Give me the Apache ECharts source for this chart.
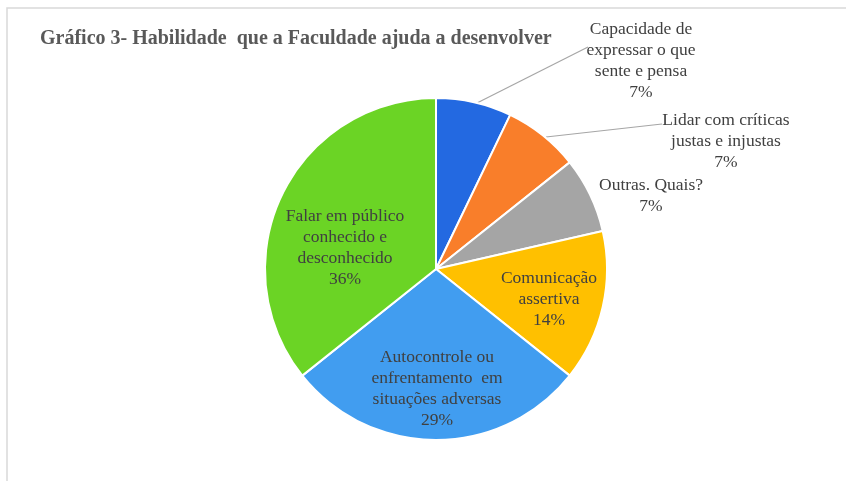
<!DOCTYPE html>
<html><head><meta charset="utf-8">
<script src="https://cdn.jsdelivr.net/npm/echarts@6/dist/echarts.min.js"></script>
<style>html,body{margin:0;padding:0;background:#fff}#c{width:846px;height:481px}</style>
</head><body><div id="c"></div>
<script>
const titleText = 'Gráfico 3- Habilidade  que a Faculdade ajuda a desenvolver';
const categories = [
  'Capacidade de\nexpressar o que\nsente e pensa',
  'Lidar com críticas\njustas e injustas',
  'Outras. Quais?',
  'Comunicação\nassertiva',
  'Autocontrole ou\nenfrentamento  em\nsituações adversas',
  'Falar em público\nconhecido e\ndesconhecido'
];
const values = [1, 1, 1, 2, 4, 5];
const colors = ['#2369e1', '#f97e2a', '#a5a5a5', '#ffc000', '#419df0', '#6bd425'];

// label anchor positions (layout only)
const labelPos = [
  {x: 641, y: 61, line: [[475, 104], [588, 47]]},
  {x: 726, y: 141, line: [[546, 137], [662, 124]]},
  {x: 651, y: 196},
  {x: 549, y: 299},
  {x: 437, y: 389},
  {x: 345, y: 248}
];

const chart = echarts.init(document.getElementById('c'));
chart.setOption({
  animation: false,
  title: {
    text: titleText, left: 35, top: 24,
    textStyle: {fontFamily: 'Liberation Serif', fontSize: 20, fontWeight: 'bold', color: '#595959'}
  },
  graphic: [{
    type: 'rect', shape: {x: 7, y: 8, width: 900, height: 600},
    style: {fill: 'none', stroke: '#d9d9d9', lineWidth: 1.5}, silent: true
  }],
  series: [{
    type: 'pie',
    center: [436, 269],
    radius: 171,
    startAngle: 90,
    clockwise: true,
    data: categories.map((n, i) => ({
      name: n, value: values[i],
      itemStyle: {color: colors[i]},
      labelLine: {show: !!labelPos[i].line}
    })),
    itemStyle: {borderColor: '#fff', borderWidth: 2},
    label: {
      show: true, position: 'outside',
      formatter: p => p.name + '\n' + Math.round(p.percent) + '%',
      fontFamily: 'Liberation Serif', fontSize: 17.5, lineHeight: 21,
      color: '#404040', align: 'center'
    },
    labelLine: {lineStyle: {color: '#a6a6a6', width: 1.2}},
    labelLayout: function (params) {
      const p = labelPos[params.dataIndex];
      const r = {x: p.x, y: p.y, align: 'center', verticalAlign: 'middle'};
      if (p.line) r.labelLinePoints = p.line.concat([]);
      return r;
    }
  }]
});
</script></body></html>
